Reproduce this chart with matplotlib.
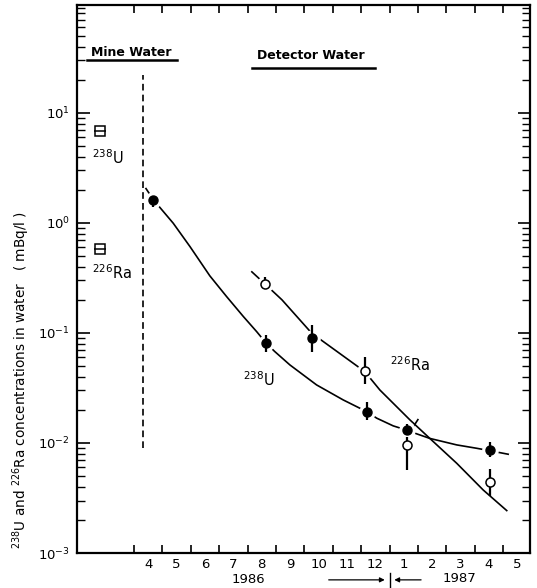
import matplotlib
matplotlib.use("Agg")
import matplotlib.pyplot as plt
import numpy as np

plt.rcParams['font.family'] = ['DejaVu Sans']
plt.rcParams['font.size'] = 9.5

# time axis: months since 1 Jan 1986 (t=12 -> 1 Jan 1987)
# mine water samples
mine_t = [1.8, 1.8]
mine_val = [6.9, 0.58]

# detector water, 238U (filled circles)
u_t = [3.68, 7.65, 9.27, 11.19, 12.6, 15.54]
u_val = [1.6, 0.081, 0.0895, 0.0193, 0.0131, 0.0086]
u_lo = [1.4, 0.067, 0.067, 0.0162, 0.0118, 0.0075]
u_hi = [1.75, 0.096, 0.118, 0.0237, 0.0149, 0.0103]

# detector water, 226Ra (open circles)
ra_t = [7.61, 11.15, 12.6, 15.54]
ra_val = [0.279, 0.045, 0.0096, 0.0044]
ra_lo = [0.25, 0.034, 0.0057, 0.0033]
ra_hi = [0.32, 0.060, 0.0113, 0.0058]

# hand-drawn trend curves
u_curve_t = [3.42, 3.70, 4.38, 4.97, 5.67, 6.26, 6.85, 7.32, 7.65, 7.95, 8.49, 9.43, 10.37,
             11.19, 11.55, 12.13, 12.60, 12.96, 13.42, 14.37, 15.07, 15.54, 16.18]
u_curve_v = [2.05, 1.60, 0.993, 0.609, 0.33, 0.214, 0.141, 0.1027, 0.081, 0.068, 0.0512, 0.0337, 0.0246,
             0.0193, 0.0168, 0.0143, 0.0131, 0.0121, 0.0110, 0.0096, 0.00895, 0.0085, 0.0079]
ra_curve_t = [7.15, 7.61, 8.21, 9.26, 11.13, 11.66, 12.72, 13.42, 14.37, 15.30, 16.13]
ra_curve_v = [0.359, 0.279, 0.20, 0.0994, 0.0445, 0.0303, 0.0162, 0.0110, 0.00653, 0.00374, 0.00243]
slash_t = [12.65, 13.0]
slash_v = [0.0118, 0.0163]

# vertical separator between mine water and detector water
sep_t = 3.31
sep_range = [0.009, 22]

month_labels = ["4", "5", "6", "7", "8", "9", "10", "11", "12", "1", "2", "3", "4", "5"]
month_start = np.arange(3, 17)

fig = plt.figure(figsize=(5.37, 5.88), dpi=100)
ax = fig.add_axes([0.1434, 0.0595, 0.8436, 0.932])

# curves
ax.plot(u_curve_t, u_curve_v, color="black", lw=1.2, zorder=1)
ax.plot(ra_curve_t, ra_curve_v, color="black", lw=1.2, zorder=1)
ax.plot(slash_t, slash_v, color="black", lw=1.2, zorder=1)
ax.plot([sep_t, sep_t], sep_range, color="black", lw=1.2, ls=(0, (4, 2.5)), zorder=1)

# white halos so the curves break around the points
ax.plot(u_t, u_val, "o", color="white", ms=11, mec="white", zorder=2)
ax.plot(ra_t, ra_val, "o", color="white", ms=11, mec="white", zorder=2)

u_err = [np.array(u_val) - np.array(u_lo), np.array(u_hi) - np.array(u_val)]
ra_err = [np.array(ra_val) - np.array(ra_lo), np.array(ra_hi) - np.array(ra_val)]
ax.errorbar(u_t, u_val, yerr=u_err, fmt="o", color="black", ms=6.5,
            elinewidth=1.6, capsize=0, zorder=4)
ax.errorbar(ra_t, ra_val, yerr=ra_err, fmt="o", color="black", mfc="white",
            mec="black", mew=1.1, ms=6.5, elinewidth=1.6, capsize=0, zorder=4)

# mine water squares
ax.plot(mine_t, mine_val, "s", mfc="white", mec="black", mew=1.1, ms=6.5, zorder=4)
ax.plot(mine_t, mine_val, "_", color="black", mew=1.1, ms=9, zorder=5)

ax.set_yscale("log")
ax.set_ylim(1e-3, 10 ** 1.98)
ax.set_xlim(0.99, 16.95)

ax.set_xticks(month_start)
ax.set_xticklabels([])
ax.set_xticks(month_start + 0.5, minor=True)
ax.set_xticklabels(month_labels, minor=True)
ax.tick_params(axis="x", which="major", direction="in", length=6, width=1.2, top=True, bottom=True)
ax.tick_params(axis="x", which="minor", length=0, pad=3.5, labelsize=9.5)
ax.tick_params(axis="y", which="major", direction="in", length=9, width=1.2, left=True, right=True, labelsize=9.5, pad=5)
ax.tick_params(axis="y", which="minor", direction="in", length=6, width=1.0, left=True, right=True)
for s in ax.spines.values():
    s.set_linewidth(1.6)

ax.set_ylabel(r"$^{238}$U and $^{226}$Ra concentrations in water   ( mBq/l )", fontsize=9.8)
ax.yaxis.set_label_coords(-0.10, 0.316)

# labels inside plot
ax.text(2.08, 3.9, r"$^{238}$U", ha="center", va="center", fontsize=10.5)
ax.text(2.22, 0.35, r"$^{226}$Ra", ha="center", va="center", fontsize=10.5)
ax.text(7.4, 0.0374, r"$^{238}$U", ha="center", va="center", fontsize=10.5)
ax.text(12.72, 0.051, r"$^{226}$Ra", ha="center", va="center", fontsize=10.5)

# section headings with underlines
ax.text(0.119, 0.914, "Mine Water", transform=ax.transAxes, ha="center", va="center", fontsize=9, fontweight="bold")
ax.plot([0.022, 0.221], [0.9, 0.9], transform=ax.transAxes, color="black", lw=1.8, clip_on=False)
ax.text(0.517, 0.907, "Detector Water", transform=ax.transAxes, ha="center", va="center", fontsize=9, fontweight="bold")
ax.plot([0.386, 0.658], [0.885, 0.885], transform=ax.transAxes, color="black", lw=1.8, clip_on=False)

# year labels and boundary arrows
trans = ax.get_xaxis_transform()
ax.text(7.03, -0.049, "1986", transform=trans, ha="center", va="center", fontsize=9.5)
ax.text(14.48, -0.047, "1987", transform=trans, ha="center", va="center", fontsize=9.5)
ax.annotate("", xy=(11.93, -0.049), xytext=(9.76, -0.049), xycoords=trans, textcoords=trans,
            arrowprops=dict(arrowstyle="-|>", color="black", lw=0.9, mutation_scale=7), annotation_clip=False)
ax.annotate("", xy=(12.07, -0.049), xytext=(13.21, -0.049), xycoords=trans, textcoords=trans,
            arrowprops=dict(arrowstyle="-|>", color="black", lw=0.9, mutation_scale=7), annotation_clip=False)
ax.plot([12.0, 12.0], [-0.0365, -0.062], transform=trans, color="black", lw=1.0, clip_on=False)

fig.savefig("out.png", dpi=100)
